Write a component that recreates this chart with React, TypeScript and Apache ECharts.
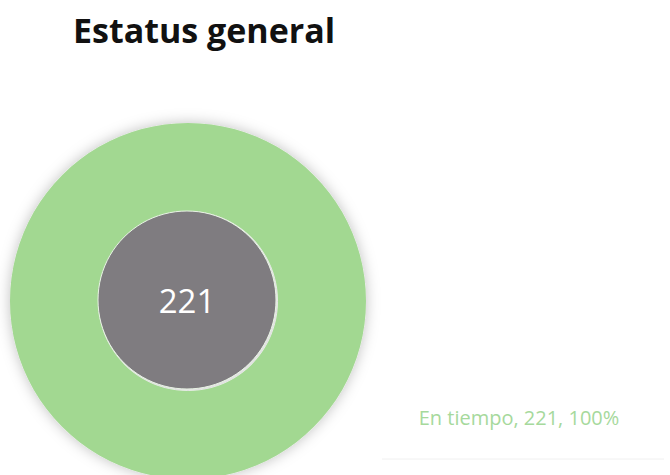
import React, { useEffect, useRef } from "react";
import * as echarts from "echarts";

const categories = ["En tiempo"];
const values = [221];
const total = [221];
const titleText = "Estatus general";

export default function App() {
  const ref = useRef<HTMLDivElement>(null);
  useEffect(() => {
    const chart = echarts.init(ref.current!, undefined, { renderer: "svg" });
    chart.setOption({
      animation: false,
      backgroundColor: "#ffffff",
      title: {
        text: titleText,
        left: 68,
        top: 8,
        textStyle: { fontFamily: "Open Sans", fontWeight: "bold", fontSize: 34, color: "#111111" },
      },
      graphic: [
        {
          type: "line",
          shape: { x1: 382, y1: 459, x2: 664, y2: 459 },
          style: { stroke: "#f0f0f0", lineWidth: 1 },
          silent: true,
        },
      ],
      series: [
        {
          type: "pie",
          center: [188, 301],
          radius: [90, 178],
          silent: true,
          startAngle: 90,
          itemStyle: {
            color: "#a2d891",
            shadowColor: "rgba(0,0,0,0.25)",
            shadowBlur: 14,
          },
          label: {
            show: true,
            position: "outside",
            formatter: "{b}, {c}, {d}%",
            color: "#a6d99c",
            fontFamily: "Open Sans",
            fontSize: 20,
          },
          labelLine: { show: false },
          labelLayout: { x: 519, y: 417, align: "center", verticalAlign: "middle" },
          data: categories.map((c, i) => ({ name: c, value: values[i] })),
        },
        {
          type: "pie",
          center: [187, 300],
          radius: [0, 89],
          silent: true,
          itemStyle: { color: "#7f7c80", borderColor: "#e8f3e4", borderWidth: 1 },
          label: {
            show: true,
            position: "center",
            formatter: "{c}",
            color: "#ffffff",
            fontFamily: "Open Sans",
            fontSize: 33,
          },
          labelLine: { show: false },
          data: total.map((v) => ({ name: "Total", value: v })),
        },
      ],
    });
    return () => chart.dispose();
  }, []);
  return (
    <div
      ref={ref}
      style={{ position: "fixed", left: 0, top: 0, width: 670, height: 475 }}
    />
  );
}
